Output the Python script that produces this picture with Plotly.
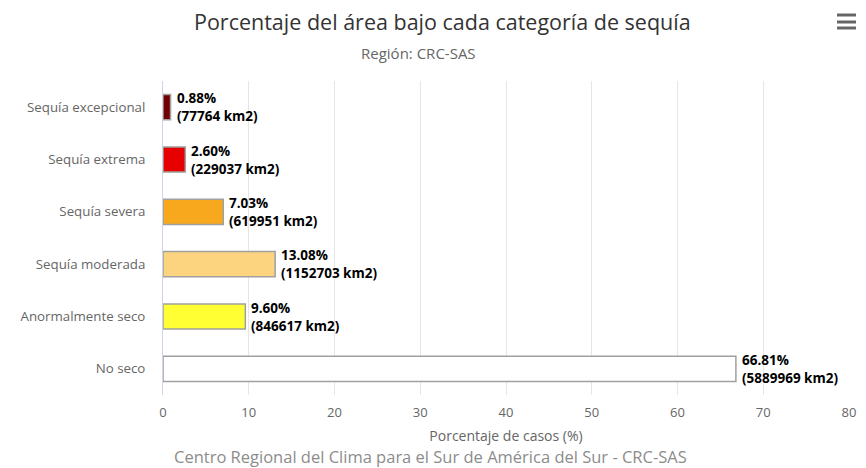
import plotly.graph_objects as go

categories = ["Sequía excepcional", "Sequía extrema", "Sequía severa",
              "Sequía moderada", "Anormalmente seco", "No seco"]
percent = [0.88, 2.60, 7.03, 13.08, 9.60, 66.81]
area_km2 = [77764, 229037, 619951, 1152703, 846617, 5889969]
colors = ["#730000", "#E60000", "#F7A81C", "#FCD37F", "#FFFF33", "#FFFFFF"]
x_ticks = [0, 10, 20, 30, 40, 50, 60, 70, 80]

FONT = "Open Sans"
W, H = 850, 460
ML, MR, MT, MB = 155, 9, 73, 73
PW, PH = W - ML - MR, H - MT - MB
OFF = 8  # page offset of the figure


def px(xpage):
    return (xpage - OFF - ML) / PW


fig = go.Figure()
fig.add_trace(go.Bar(
    x=percent, y=categories, orientation="h",
    marker=dict(color=colors, line=dict(color="#a0a0a0", width=1.5)),
    width=0.48, hoverinfo="x+y",
))

for p, a, c in zip(percent, area_km2, categories):
    fig.add_annotation(
        x=p, y=c, xref="x", yref="y", xanchor="left", yanchor="middle",
        xshift=4, align="left", showarrow=False,
        text=f"<b>{p:.2f}%<br>({a} km2)</b>",
        font=dict(family=FONT, size=13.5, color="#000000"),
    )

# title
fig.add_annotation(
    x=px(442), y=1, xref="paper", yref="paper", yanchor="middle",
    showarrow=False, yshift=MT - 13.5, borderpad=0,
    text="Porcentaje del área bajo cada categoría de sequía",
    font=dict(family=FONT, size=21.5, color="#333333"),
)
# subtitle
fig.add_annotation(
    x=px(418), y=1, xref="paper", yref="paper", yanchor="middle",
    showarrow=False, yshift=MT - 45, text="Región: CRC-SAS",
    font=dict(family=FONT, size=15, color="#666666"),
)
# credits
fig.add_annotation(
    x=px(430), y=0, xref="paper", yref="paper", yanchor="middle",
    showarrow=False, yshift=-61.5, borderpad=0,
    text="Centro Regional del Clima para el Sur de América del Sur - CRC-SAS",
    font=dict(family=FONT, size=16.5, color="#8c8c8c"),
)

# hamburger menu icon
for yy in [7, 14, 20]:
    yp = 1 + (MT - yy) / PH
    fig.add_shape(type="line", xref="paper", yref="paper",
                  x0=px(837), x1=px(856), y0=yp, y1=yp,
                  line=dict(color="#666666", width=3))

fig.update_layout(
    width=W, height=H,
    margin=dict(l=ML, r=MR, t=MT, b=MB, autoexpand=False),
    paper_bgcolor="white", plot_bgcolor="white",
    showlegend=False,
    xaxis=dict(range=[0, 80], tickvals=x_ticks, showgrid=True,
               gridcolor="#e6e6e6", gridwidth=1, zeroline=False,
               showline=False, ticks="", automargin=False,
               ticklabelstandoff=8, ticklabeloverflow="allow",
               tickfont=dict(family=FONT, size=13, color="#666666"),
               title=dict(text="Porcentaje de casos (%)", standoff=11,
                          font=dict(family=FONT, size=14, color="#666666"))),
    yaxis=dict(categoryorder="array", categoryarray=categories,
               autorange="reversed", showgrid=False, zeroline=False,
               showline=True, linecolor="#ccd6eb", linewidth=1, ticks="",
               ticklabelstandoff=14, automargin=False,
               tickfont=dict(family=FONT, size=13.3, color="#666666")),
)

fig.write_html("out.html")
